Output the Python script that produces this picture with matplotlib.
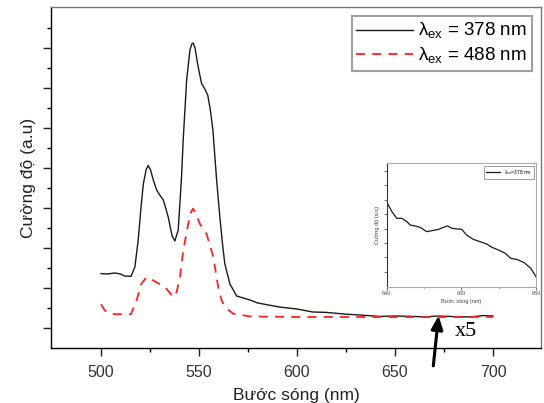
import numpy as np
import matplotlib
matplotlib.use("Agg")
import matplotlib.pyplot as plt

plt.rcParams['font.family'] = ['Liberation Sans', 'DejaVu Sans']

# emission spectrum, excitation 378 nm
wl_378 = [500, 503, 507, 510, 512, 515.3, 517.3, 519, 520.3, 521.6, 523, 524.1, 525.3, 526.7,
          528.4, 530, 531.8, 533, 534.3, 536.3, 537.7, 539.4, 541.1, 542, 543.7, 545.4,
          546.3, 547, 548, 549.3, 551.3, 553, 554.5, 555.8, 557.1, 559, 560.7, 562,
          563.2, 565.8, 569.2, 576, 580, 591, 600, 608, 615, 625, 632,
          642, 650, 659, 665, 672, 680, 688, 695, 700]
int_378 = [3.72, 3.7, 3.75, 3.7, 3.6, 3.58, 4.05, 5.4, 6.9, 8.2, 8.9, 9.13, 8.9, 8.4,
           7.9, 7.65, 7.4, 7.0, 6.55, 5.6, 5.35, 5.9, 8.55, 10.5, 13.4, 14.9,
           15.2, 15.25, 15.0, 14.2, 13.23, 12.95, 12.63, 11.9, 10.9, 8.4, 6.5, 5.2,
           4.2, 3.2, 2.6, 2.4, 2.25, 2.05, 1.95, 1.8, 1.78, 1.69, 1.65,
           1.58, 1.6, 1.58, 1.55, 1.6, 1.57, 1.55, 1.62, 1.6]

# emission spectrum, excitation 488 nm
wl_488 = [500, 501.8, 503.7, 507.1, 515.3, 518.2, 520.7, 523.3, 525.8, 529, 532.6, 536.9,
          538.6, 540.3, 542, 544.5, 546, 547, 548.5, 550.5, 553.9, 557.3, 559.8, 561.5,
          563.2, 567.4, 576, 600, 650, 700]
int_488 = [2.19, 1.9, 1.75, 1.69, 1.69, 2.39, 3.22, 3.55, 3.42, 3.25, 3.05, 2.55,
           2.8, 3.55, 4.9, 6.2, 6.8, 6.97, 6.7, 6.2, 5.7, 4.55, 3.05, 2.4,
           2.05, 1.72, 1.58, 1.55, 1.55, 1.55]

# inset: tail of the 378 nm spectrum (x5)
wl_inset = [640.2, 641.4, 642.7, 644.1, 645.4, 646.3, 647.6, 649.0, 650.7, 652.1,
            653.9, 655.2, 656.3, 657.5, 658.8, 660.1, 661.4, 663.2, 665.0, 666.8,
            668.2, 670.0, 671.8, 673.2, 675.0, 676.8, 678.6, 680]
int_inset = [0.676, 0.608, 0.554, 0.554, 0.527, 0.5, 0.492, 0.481, 0.446, 0.454,
             0.465, 0.481, 0.492, 0.473, 0.468, 0.465, 0.419, 0.384, 0.365, 0.346,
             0.319, 0.297, 0.27, 0.23, 0.22, 0.195, 0.149, 0.081]

fig = plt.figure(figsize=(5.44, 4.03), dpi=100)
ax = fig.add_axes([51/544, 1-348/403, 490/544, 341/403])

ax.plot(wl_378, int_378, color='#1a1a1a', lw=1.0, label=u'λ$_{\\mathregular{ex}}$ = 378 nm')
ax.plot(wl_488, int_488, color='#ff2020', lw=1.3, ls=(0, (5, 4)),
        label=u'λ$_{\\mathregular{ex}}$ = 488 nm')

ax.set_xlim(474.5, 724.5)
ax.set_ylim(0, 17.05)
ax.set_xticks([500, 550, 600, 650, 700])
ax.set_xticks([525, 575, 625, 675], minor=True)
ax.set_yticks(np.arange(1, 17, 2))
ax.set_yticks(np.arange(2, 17, 2), minor=True)
ax.set_yticklabels([])
ax.tick_params(axis='both', which='major', length=6, width=1.0, labelsize=11.5,
               colors='#222222')
ax.tick_params(axis='both', which='minor', length=3, width=1.0)
ax.tick_params(axis='x', pad=6, labelcolor='#333333')
for s in ax.spines.values():
    s.set_linewidth(1.0)
ax.spines['top'].set_color('#777777')
ax.spines['right'].set_color('#777777')

ax.set_xlabel(u'Bước sóng (nm)', fontsize=12.5, color='#222222', labelpad=6)
ax.set_ylabel(u'Cường độ (a.u)', fontsize=12.5, color='#222222', labelpad=1)

leg = ax.legend(loc='upper right', fontsize=13.5, frameon=True, fancybox=False,
                handlelength=3.0, handletextpad=0.3, borderaxespad=0.5,
                labelspacing=0.25, borderpad=0.25)
leg.get_frame().set_edgecolor('#888888')
leg.get_frame().set_linewidth(1.5)

# arrow and magnification factor
ax.annotate('', xy=(672.4, 1.75), xytext=(669.4, -1.03),
            arrowprops=dict(arrowstyle='-|>,head_length=0.8,head_width=0.35',
                            color='black', lw=2.2),
            annotation_clip=False)
ax.text(680.5, 0.8, 'x5', fontsize=16, family='Liberation Serif', va='center',
        ha='left')

# inset
ins = fig.add_axes([386.7/544, 1-286.7/403, 149.3/544, 123.4/403])
ins.plot(wl_inset, int_inset, color='#1a1a1a', lw=0.9, label=u'λ$_{ex}$=378 nm')
ins.set_xlim(640, 680)
ins.set_ylim(0, 1)
ins.set_xticks([640, 660, 680])
ins.set_xticklabels(['640', '660', '680'])
ins.set_xticks([650, 670], minor=True)
ins.set_yticks(np.arange(0.12, 1.0, 0.117))
ins.set_yticklabels([])
ins.tick_params(axis='both', which='major', length=2, width=0.6, labelsize=4,
                pad=1, colors='#555555')
ins.tick_params(axis='both', which='minor', length=1, width=0.5)
for s in ins.spines.values():
    s.set_linewidth(0.8)
    s.set_color('#aaaaaa')
ins.spines['left'].set_color('#333333')
ins.set_xlabel(u'Bước sóng (nm)', fontsize=4, labelpad=2, color='#444444')
ins.set_ylabel(u'Cường độ (a.u)', fontsize=4, labelpad=2, color='#444444')
il = ins.legend(loc='upper right', fontsize=3.5, frameon=True, fancybox=False,
                handlelength=3, borderpad=0.4)
il.get_frame().set_edgecolor('#555555')
il.get_frame().set_linewidth(0.5)

fig.savefig('out.png', dpi=100)
